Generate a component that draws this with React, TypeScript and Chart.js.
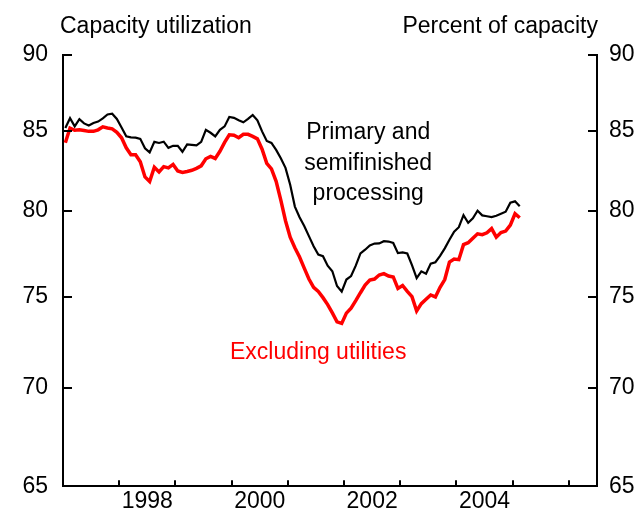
import React, { useEffect, useRef } from 'react';
import { Chart, registerables } from 'chart.js';
Chart.register(...registerables);

// Monthly data, Jan 1997 – Feb 2005 (percent of capacity)
const START_YEAR = 1997;
const primaryProcessing = [
  85.18, 85.81, 85.28, 85.74, 85.47, 85.34, 85.5, 85.59, 85.8, 86.05, 86.1, 85.76,
  85.21, 84.64, 84.58, 84.56, 84.48, 83.88, 83.62, 84.29, 84.22, 84.3, 83.91, 84.04,
  84.04, 83.66, 84.13, 84.1, 84.07, 84.29, 85.06, 84.87, 84.64, 85.06, 85.28, 85.89,
  85.83, 85.67, 85.54, 85.76, 86.02, 85.67, 84.96, 84.35, 84.22, 83.78, 83.25, 82.65,
  81.61, 80.27, 79.63, 79.1, 78.5, 77.9, 77.42, 77.32, 76.77, 76.45, 75.6, 75.28,
  75.97, 76.17, 76.77, 77.48, 77.7, 77.95, 78.06, 78.07, 78.2, 78.18, 78.1, 77.5,
  77.54, 77.48, 76.8, 76.05, 76.44, 76.3, 76.89, 76.97, 77.34, 77.78, 78.29, 78.77,
  79.03, 79.75, 79.3, 79.57, 80.02, 79.74, 79.69, 79.64, 79.72, 79.84, 79.96, 80.51,
  80.59, 80.29,
];
const excludingUtilities = [
  84.23, 85.17, 85.03, 85.06, 85.01, 84.96, 84.96, 85.06, 85.25, 85.18, 85.12, 84.9,
  84.55, 83.91, 83.47, 83.47, 83.03, 82.09, 81.8, 82.69, 82.4, 82.73, 82.65, 82.87,
  82.46, 82.37, 82.43, 82.5, 82.62, 82.78, 83.22, 83.37, 83.24, 83.69, 84.26, 84.74,
  84.71, 84.55, 84.77, 84.77, 84.64, 84.48, 83.82, 82.93, 82.59, 81.82, 80.66, 79.42,
  78.44, 77.82, 77.27, 76.63, 76.0, 75.52, 75.29, 74.94, 74.55, 74.08, 73.58, 73.5,
  74.07, 74.35, 74.77, 75.22, 75.65, 75.94, 76.0, 76.23, 76.31, 76.17, 76.12, 75.46,
  75.63, 75.3, 75.0, 74.19, 74.6, 74.85, 75.09, 74.98, 75.53, 75.97, 76.98, 77.15,
  77.12, 78.0, 78.11, 78.38, 78.64, 78.59, 78.7, 78.95, 78.44, 78.71, 78.8, 79.16,
  79.84, 79.6,
];
const yTickValues = [65, 70, 75, 80, 85, 90];
const xTickYears = [1998, 1999, 2000, 2001, 2002, 2003, 2004, 2005, 2006];
const xLabelYears = [1998, 2000, 2002, 2004];
const X_MIN = 1997;
const X_MAX = 2006.5;
const Y_MIN = 65;
const Y_MAX = 90;

const leftTitle = 'Capacity utilization';
const rightTitle = 'Percent of capacity';
const blackLabel = ['Primary and', 'semifinished', 'processing'];
const blackLabelPos = { x: 2002.43, y: [84.87, 82.93, 81.03] };
const redLabel = 'Excluding utilities';
const redLabelPos = { x: 2001.54, y: 71.9 };

const FONT = "'Liberation Sans', Arial, sans-serif";
const FONT_SIZE = 23;

const toPoints = (vals: number[]) =>
  vals.map((v, i) => ({ x: START_YEAR + (i + 0.5) / 12, y: v }));

const decorPlugin = {
  id: 'decor',
  afterDraw(chart: any) {
    const { ctx, chartArea, scales } = chart;
    const ys = scales.y;
    const xs = scales.x;
    ctx.save();
    ctx.strokeStyle = '#000';
    ctx.lineWidth = 2;
    ctx.beginPath();
    yTickValues.forEach((v) => {
      const py = Math.round(ys.getPixelForValue(v));
      ctx.moveTo(chartArea.left, py);
      ctx.lineTo(chartArea.left + 9, py);
      ctx.moveTo(chartArea.right, py);
      ctx.lineTo(chartArea.right - 9, py);
    });
    xTickYears.forEach((yr) => {
      const px = Math.round(xs.getPixelForValue(yr));
      ctx.moveTo(px, chartArea.bottom);
      ctx.lineTo(px, chartArea.bottom - 6);
    });
    ctx.stroke();

    ctx.font = `${FONT_SIZE}px ${FONT}`;
    ctx.fillStyle = '#000';
    ctx.textBaseline = 'alphabetic';
    ctx.textAlign = 'left';
    ctx.fillText(leftTitle, chartArea.left - 3, 33);
    ctx.textAlign = 'right';
    ctx.fillText(rightTitle, chartArea.right + 1, 33);

    ctx.textAlign = 'center';
    ctx.textBaseline = 'middle';
    const bx = xs.getPixelForValue(blackLabelPos.x);
    blackLabel.forEach((t, i) => {
      ctx.fillText(t, bx, ys.getPixelForValue(blackLabelPos.y[i]));
    });
    ctx.fillStyle = '#ff0000';
    ctx.fillText(redLabel, xs.getPixelForValue(redLabelPos.x), ys.getPixelForValue(redLabelPos.y));
    ctx.restore();
  },
};

const yAxis = (position: 'left' | 'right', width: number, padding: number) => ({
  type: 'logarithmic' as const,
  position,
  min: Y_MIN,
  max: Y_MAX,
  afterBuildTicks: (scale: any) => {
    scale.ticks = yTickValues.map((v) => ({ value: v }));
  },
  afterFit: (scale: any) => {
    scale.width = width;
  },
  grid: { display: false, drawTicks: false },
  border: { display: true, color: '#000', width: 2 },
  ticks: {
    color: '#000',
    padding,
    font: { family: FONT, size: FONT_SIZE },
    callback: (v: any) => String(v),
  },
});

export default function App() {
  const ref = useRef<HTMLCanvasElement | null>(null);
  useEffect(() => {
    if (!ref.current) return;
    const chart = new Chart(ref.current, {
      type: 'line',
      data: {
        datasets: [
          {
            label: 'Primary and semifinished processing',
            data: toPoints(primaryProcessing),
            borderColor: '#000',
            borderWidth: 2.2,
            pointRadius: 0,
            tension: 0,
            fill: false,
          },
          {
            label: 'Excluding utilities',
            data: toPoints(excludingUtilities),
            borderColor: '#ff0000',
            borderWidth: 3.5,
            pointRadius: 0,
            tension: 0,
            fill: false,
          },
        ],
      },
      options: {
        responsive: false,
        animation: false,
        devicePixelRatio: 1,
        layout: { padding: { top: 55, left: 0, right: 0, bottom: 0 } },
        plugins: { legend: { display: false }, tooltip: { enabled: false } },
        scales: {
          x: {
            type: 'linear',
            min: X_MIN,
            max: X_MAX,
            afterBuildTicks: (scale: any) => {
              scale.ticks = xLabelYears.map((y) => ({ value: y + 0.5 }));
            },
            afterFit: (scale: any) => {
              scale.height = 28;
            },
            grid: { display: false, drawTicks: false },
            border: { display: true, color: '#000', width: 2 },
            ticks: {
              color: '#000',
              padding: 2,
              maxRotation: 0,
              autoSkip: false,
              font: { family: FONT, size: FONT_SIZE },
              callback: (v: any) => String(Math.floor(Number(v))),
            },
          },
          y: yAxis('left', 63, 15),
          y2: yAxis('right', 45, 12),
        },
      },
      plugins: [decorPlugin],
    });
    return () => chart.destroy();
  }, []);
  return (
    <div style={{ position: 'absolute', left: 0, top: 0, width: 642, height: 515, background: '#fff' }}>
      <canvas ref={ref} width={642} height={515} />
    </div>
  );
}
